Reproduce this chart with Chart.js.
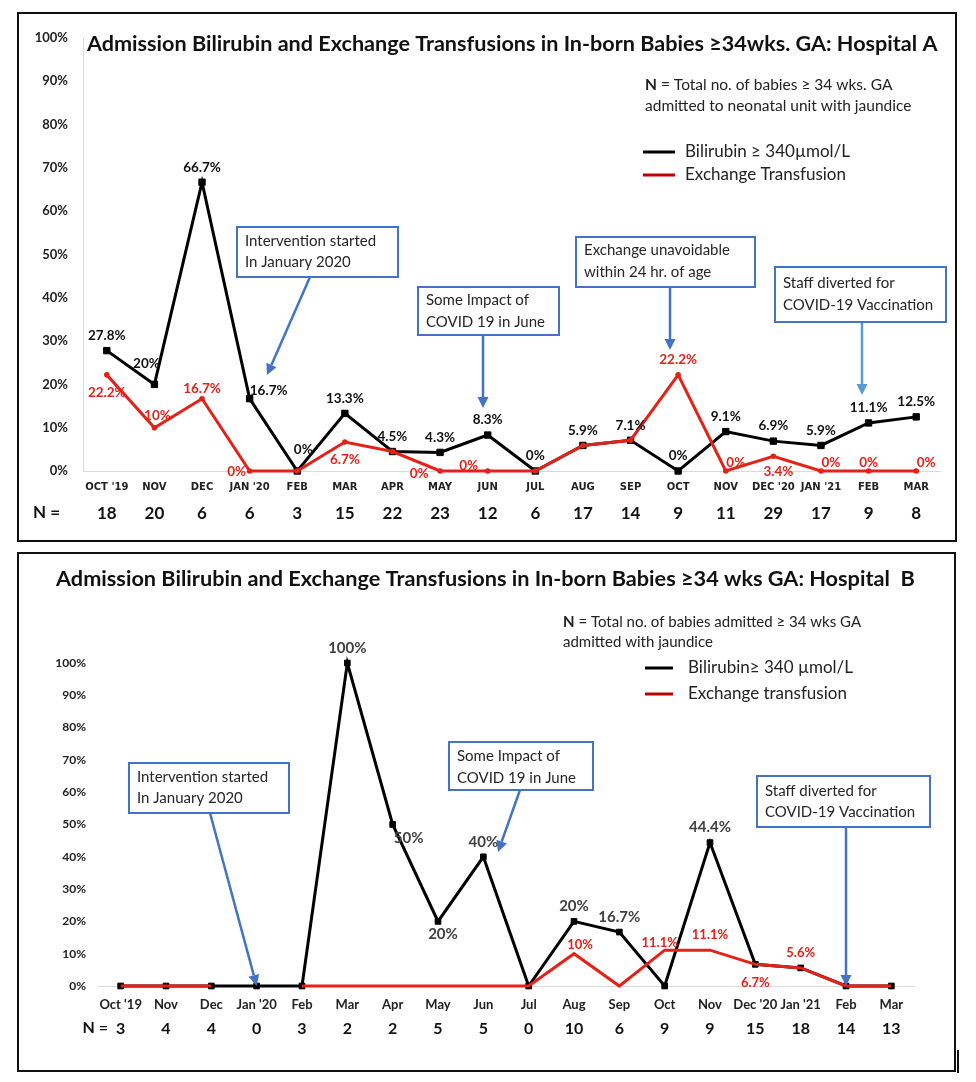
<!DOCTYPE html>
<html><head><meta charset="utf-8">
<script src="https://cdn.jsdelivr.net/npm/chart.js@4.4.1/dist/chart.umd.min.js"></script>
<style>
html,body{margin:0;padding:0;background:#fff;}
body{width:976px;height:1082px;position:relative;overflow:hidden;}
.panel{position:absolute;border:2px solid #111;box-sizing:border-box;}
canvas{position:absolute;left:0;}
</style></head><body>
<div class="panel" style="left:17px;top:12px;width:940px;height:530px"></div>
<div class="panel" style="left:17px;top:552px;width:939px;height:520px"></div>
<div style="position:absolute;left:957px;top:1050px;width:2px;height:23px;background:#111"></div>
<canvas id="cA" width="976" height="547" style="top:0;width:976px;height:547px"></canvas>
<canvas id="cB" width="976" height="535" style="top:547px;width:976px;height:535px"></canvas>
<script>
// ---------- DATA ----------
const months = ["Oct '19","Nov","Dec","Jan '20","Feb","Mar","Apr","May","Jun","Jul","Aug","Sep","Oct","Nov","Dec '20","Jan '21","Feb","Mar"];
const monthsA = months.map(m => m.toUpperCase());

// Hospital A (%)
const bilirubinA = [27.8,20,66.7,16.7,0,13.3,4.5,4.3,8.3,0,5.9,7.1,0,9.1,6.9,5.9,11.1,12.5];
const exchangeA  = [22.2,10,16.7,0,0,6.7,4.5,0,0,0,5.9,7.1,22.2,0,3.4,0,0,0];
const nA         = [18,20,6,6,3,15,22,23,12,6,17,14,9,11,29,17,9,8];

// Hospital B (%)
const bilirubinB = [0,0,0,0,0,100,50,20,40,0,20,16.7,0,44.4,6.7,5.6,0,0];
const exchangeB  = [0,0,0,null,0,0,0,0,0,0,10,0,11.1,11.1,6.7,5.6,0,0];
const nB         = [3,4,4,0,3,2,2,5,5,0,10,6,9,9,15,18,14,13];

// which points carry a value label, and where (placement keyword)
const labelPosBilA = ['t','nw','t','e','ne','t','t','t','t','t','t','t','t','t','t','t','t','t'];
const labelPosExA  = ['b','tr3','t1','l',null,'b',null,'bl','tl',null,null,null,'t','tr','b2','tr','up','tr'];
const labelPosBilB = [null,null,null,null,null,'t','r','b3',  't',null,'t','t',null,'t',null,null,null,null];
const labelPosExB  = [null,null,null,null,null,null,null,null,null,null,'tr2',null,'tl2','t','b','t',null,null];

// ---------- STYLE ----------
const RED = '#e2231a';
const BLUE = '#4472c4';
const BLUE_LIGHT = '#5b9bd5';
const FONT = "Lato, 'Open Sans', sans-serif";
const OFFSETS = {
  t:[0,-15], t1:[0,-10], b:[0,18], b2:[5,15], b3:[5,13], l:[-13,1], bl:[-21,3], tl:[-19,-5],
  nw:[-8,-21], ne:[6,-21], e:[19,-8], tr:[10,-8], tr3:[3,-12], up:[0,-8], r:[16,14],
  tr2:[6,-9], tl2:[-5,-7]
};

function drawArrow(ctx, x1, y1, x2, y2, color){
  const ang = Math.atan2(y2 - y1, x2 - x1), L = 11, W = 5.5;
  const bx = x2 - L*Math.cos(ang), by = y2 - L*Math.sin(ang);
  ctx.save();
  ctx.strokeStyle = color; ctx.fillStyle = color; ctx.lineWidth = 2.5;
  ctx.beginPath(); ctx.moveTo(x1, y1); ctx.lineTo(bx, by); ctx.stroke();
  ctx.beginPath(); ctx.moveTo(x2, y2);
  ctx.lineTo(bx + W*Math.sin(ang), by - W*Math.cos(ang));
  ctx.lineTo(bx - W*Math.sin(ang), by + W*Math.cos(ang));
  ctx.closePath(); ctx.fill();
  ctx.restore();
}

function makeOverlay(cfg){
  return {
    id: 'overlay',
    afterDraw(chart){
      const ctx = chart.ctx, oy = cfg.offsetY;
      const xs = chart.scales.x, ys = chart.scales.y;
      ctx.save();
      ctx.textBaseline = 'middle';
      // title (fit to width)
      ctx.fillStyle = '#111'; ctx.textAlign = 'left';
      ctx.font = `bold 20px ${FONT}`;
      const tw = ctx.measureText(cfg.title.text).width;
      ctx.font = `bold ${20*cfg.title.width/tw}px ${FONT}`;
      ctx.fillText(cfg.title.text, cfg.title.x, cfg.title.y - oy);
      // note
      cfg.note.lines.forEach((ln, i) => {
        let x = cfg.note.x; const y = cfg.note.ys[i] - oy;
        ctx.fillStyle = '#222';
        if (ln.bold){ ctx.font = `bold ${cfg.note.size}px ${FONT}`; ctx.fillText(ln.bold, x, y); x += ctx.measureText(ln.bold).width; }
        ctx.font = `${cfg.note.size}px ${FONT}`; ctx.fillText(ln.text, x, y);
      });
      // legend
      cfg.legend.items.forEach(it => {
        const y = it.y - oy;
        ctx.strokeStyle = it.color; ctx.lineWidth = 3;
        ctx.beginPath(); ctx.moveTo(cfg.legend.x1, y); ctx.lineTo(cfg.legend.x2, y); ctx.stroke();
        ctx.fillStyle = '#222'; ctx.font = `${cfg.legend.size}px ${FONT}`;
        ctx.fillText(it.text, cfg.legend.tx, y);
      });
      // "N =" row label
      ctx.fillStyle = '#111'; ctx.font = `bold ${cfg.nLabel.size}px ${FONT}`;
      ctx.textAlign = cfg.nLabel.align;
      ctx.fillText('N =', cfg.nLabel.x, cfg.nLabel.y - oy);
      // value labels
      cfg.labels.forEach(spec => {
        const meta = chart.getDatasetMeta(spec.ds);
        const vals = chart.data.datasets[spec.ds].data;
        ctx.fillStyle = spec.color; ctx.font = spec.font; ctx.textAlign = 'center';
        spec.pos.forEach((p, i) => {
          if (!p || vals[i] === null) return;
          const el = meta.data[i]; const o = OFFSETS[p];
          ctx.fillText(vals[i] + '%', el.x + o[0], el.y + o[1]);
        });
      });
      // callouts
      cfg.callouts.forEach(c => {
        const [bx, by, bw, bh] = c.box;
        let [ax1, ay1] = c.from; ay1 -= oy;
        let ax2, ay2;
        if (c.tip){ ax2 = xs.getPixelForValue(c.tip.idx); ay2 = ys.getPixelForValue(c.tip.val); }
        else { ax2 = c.to[0]; ay2 = c.to[1] - oy; }
        drawArrow(ctx, ax1, ay1, ax2, ay2, c.arrowColor || BLUE);
        ctx.fillStyle = '#fff'; ctx.fillRect(bx, by - oy, bw, bh);
        ctx.strokeStyle = BLUE; ctx.lineWidth = 2; ctx.strokeRect(bx, by - oy, bw, bh);
        ctx.fillStyle = '#262626'; ctx.font = `15px ${FONT}`; ctx.textAlign = 'left';
        c.lines.forEach((t, i) => ctx.fillText(t, bx + 8, c.ty[i] - oy));
      });
      ctx.restore();
    }
  };
}

function buildChart(id, o){
  return new Chart(document.getElementById(id), {
    type: 'line',
    data: {
      labels: o.labels,
      datasets: [
        { label: o.names[0], data: o.bil, borderColor: '#000', backgroundColor: '#000',
          borderWidth: 3, pointStyle: 'rect', pointRadius: o.bilPointR, pointBorderWidth: 1,
          pointBorderColor: '#000', tension: 0, order: 1, clip: false },
        { label: o.names[1], data: o.ex, borderColor: RED, backgroundColor: RED,
          borderWidth: 3, pointStyle: 'circle', pointRadius: o.exPointR, pointBorderWidth: 0,
          tension: 0, order: 0, clip: false, spanGaps: false }
      ]
    },
    options: {
      responsive: false, animation: false, devicePixelRatio: 1,
      layout: { padding: o.padding },
      plugins: { legend: { display: false }, tooltip: { enabled: false }, title: { display: false } },
      scales: {
        x: { type: 'category', position: 'bottom', weight: 0, offset: true,
             grid: { display: false, drawTicks: false },
             border: { display: true, color: '#d9d9d9', width: 1 },
             ticks: { font: o.xFont, color: '#222', padding: o.xPad, maxRotation: 0, autoSkip: false },
             afterFit: s => { s.height = o.xH; } },
        xN: { type: 'category', labels: o.n.map(String), position: 'bottom', weight: 1, offset: true,
             grid: { display: false, drawTicks: false }, border: { display: false },
             ticks: { font: o.nFont, color: '#111', padding: o.nPad, maxRotation: 0, autoSkip: false },
             afterFit: s => { s.height = o.nH; } },
        y: { min: 0, max: 100,
             ticks: { stepSize: 10, callback: v => v + '%', font: o.yFont, color: '#222', padding: o.yPad },
             grid: { display: false, drawTicks: false },
             border: { display: o.yBorder, color: '#d9d9d9', width: 1 },
             afterFit: s => { s.width = o.yW; } }
      }
    },
    plugins: [makeOverlay(o.overlay)]
  });
}

buildChart('cA', {
  labels: monthsA, bil: bilirubinA, ex: exchangeA, n: nA,
  names: ['Bilirubin ≥ 340µmol/L', 'Exchange Transfusion'],
  bilPointR: 4.5, exPointR: 2.8,
  padding: { top: 38, right: 36, left: 0, bottom: 0 },
  xFont: { family: 'DejaVu Sans', weight: 'bold', size: 10 }, xPad: 10, xH: 27,
  nFont: { family: FONT, weight: 'bold', size: 17 }, nPad: 5, nH: 49,
  yFont: { family: FONT, weight: 'bold', size: 13 }, yPad: 15, yW: 83, yBorder: true,
  overlay: {
    offsetY: 0,
    title: { text: 'Admission Bilirubin and Exchange Transfusions in In-born Babies ≥34wks. GA: Hospital A', x: 87, y: 44, width: 851 },
    note: { x: 645, ys: [85, 106], size: 15.5, lines: [
      { bold: 'N', text: ' = Total no. of babies ≥ 34 wks. GA' },
      { text: 'admitted to neonatal unit with jaundice' } ] },
    legend: { x1: 643, x2: 675, tx: 685, size: 17, items: [
      { y: 152, color: '#000', text: 'Bilirubin ≥ 340µmol/L' },
      { y: 175, color: '#c00000', text: 'Exchange Transfusion' } ] },
    nLabel: { x: 33, y: 513, size: 17, align: 'left' },
    labels: [
      { ds: 0, pos: labelPosBilA, color: '#111', font: `bold 13.5px ${FONT}` },
      { ds: 1, pos: labelPosExA, color: RED, font: `bold 13.5px ${FONT}` } ],
    callouts: [
      { box: [237, 227, 161, 50], lines: ['Intervention started', 'In January 2020'], ty: [241, 262], from: [310, 277], to: [267, 375] },
      { box: [418, 287, 141, 48], lines: ['Some Impact of', 'COVID 19 in June'], ty: [300, 322], from: [483, 335], to: [483, 408] },
      { box: [576, 237, 179, 50], lines: ['Exchange unavoidable', 'within 24 hr. of age'], ty: [250, 272], from: [670, 287], to: [670, 350] },
      { box: [775, 267, 171, 55], lines: ['Staff diverted for', 'COVID-19 Vaccination'], ty: [283, 305], from: [862, 322], to: [862, 395], arrowColor: BLUE_LIGHT } ]
  }
});

buildChart('cB', {
  labels: months, bil: bilirubinB, ex: exchangeB, n: nB,
  names: ['Bilirubin≥ 340 µmol/L', 'Exchange transfusion'],
  bilPointR: 4, exPointR: 0,
  padding: { top: 116, right: 62, left: 0, bottom: 0 },
  xFont: { family: FONT, weight: 'bold', size: 13 }, xPad: 11, xH: 30,
  nFont: { family: FONT, weight: 'bold', size: 16 }, nPad: 3, nH: 66,
  yFont: { family: FONT, weight: 'bold', size: 12 }, yPad: 12, yW: 98, yBorder: false,
  overlay: {
    offsetY: 547,
    title: { text: 'Admission Bilirubin and Exchange Transfusions in In-born Babies ≥34 wks GA: Hospital  B', x: 56, y: 579, width: 859 },
    note: { x: 563, ys: [622, 642], size: 15, lines: [
      { bold: 'N', text: ' = Total no. of babies admitted ≥ 34 wks GA' },
      { text: 'admitted with jaundice' } ] },
    legend: { x1: 645, x2: 673, tx: 688, size: 17, items: [
      { y: 668, color: '#000', text: 'Bilirubin≥ 340 µmol/L' },
      { y: 694, color: '#c00000', text: 'Exchange transfusion' } ] },
    nLabel: { x: 108, y: 1028, size: 16, align: 'right' },
    labels: [
      { ds: 0, pos: labelPosBilB, color: '#404040', font: `bold 15px ${FONT}` },
      { ds: 1, pos: labelPosExB, color: RED, font: `bold 13px ${FONT}` } ],
    callouts: [
      { box: [129, 763, 160, 50], lines: ['Intervention started', 'In January 2020'], ty: [777, 798], from: [210, 813], tip: { idx: 3, val: 0 } },
      { box: [449, 742, 144, 48], lines: ['Some Impact of', 'COVID 19 in June'], ty: [756, 778], from: [520, 790], to: [498, 852] },
      { box: [757, 776, 173, 51], lines: ['Staff diverted for', 'COVID-19 Vaccination'], ty: [791, 812], from: [846, 827], tip: { idx: 16, val: 0 } } ]
  }
});
</script>
</body></html>
